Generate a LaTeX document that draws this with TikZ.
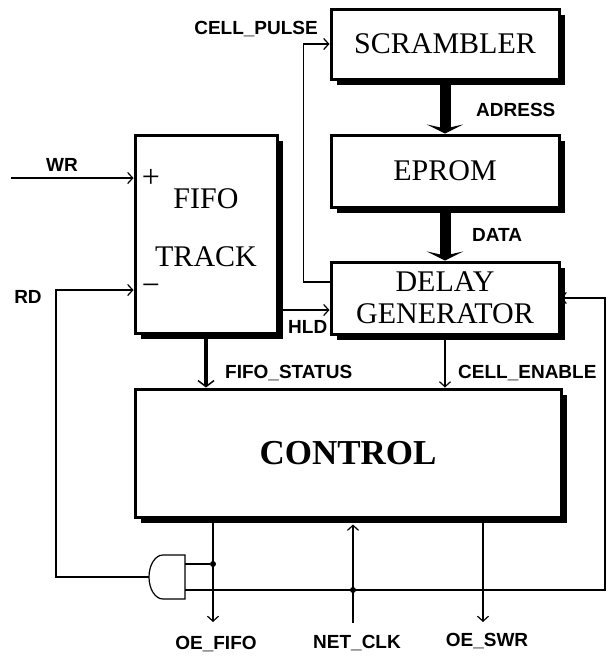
\documentclass[tikz,border=0pt]{standalone}
\usepackage{fontspec}
\setmainfont{Liberation Serif}
\setsansfont{Liberation Sans}
\usetikzlibrary{arrows.meta,shadows,positioning}

\begin{document}
\begin{tikzpicture}[x=1pt,y=-1pt,
  blk/.style={draw,line width=3pt,fill=white,minimum width=228pt,minimum height=72pt,inner sep=0pt,align=center,
    font=\fontsize{30}{32}\selectfont,drop shadow={shadow xshift=6pt,shadow yshift=-6pt,fill=black,opacity=1}},
  lbl/.style={font=\sffamily\bfseries\fontsize{19}{19}\selectfont,inner sep=0pt,text height=13.6pt,text depth=0pt},
  pm/.style={font=\fontsize{32}{32}\selectfont,inner sep=0pt},
  sig/.style={line width=1.2pt},
  arr/.style={sig,-{Straight Barb[length=5pt,width=11pt]}},
  bus/.style={line width=11pt,-{Stealth[length=9pt,width=36pt,inset=4pt]}},
  stat/.style={line width=4pt,-{Straight Barb[length=6pt,width=16pt,line width=1.5pt]}},
  dot/.style={circle,fill,inner sep=0pt,minimum size=6pt}
]
\useasboundingbox (0,0) rectangle (608,656);

% blocks
\node[blk,minimum height=70pt] (scr) at (445,44) {SCRAMBLER};
\node[blk] (eprom) at (445,171) {EPROM};
\node[blk] (delay) at (445,298) {DELAY\\GENERATOR};
\node[blk,minimum width=142pt,minimum height=198pt] (fifo) at (206,234) {FIFO\\[26pt]TRACK\\[-20pt]\mbox{}};
\node[blk,minimum width=426pt,minimum height=128pt,font=\bfseries\fontsize{35}{35}\selectfont] (control) at (348,453) {CONTROL};

% free ends
\coordinate (wr) at (11,178);
\coordinate (rd) at (56,290);
\coordinate (oef) at (213,622);
\coordinate (nclk) at (353,623);
\coordinate (oes) at (483,622);
\coordinate (fb) at (605,590);

% gate
\coordinate (gout) at (149,577);
\coordinate (gin1) at (185,564);
\coordinate (gin2) at (185,590);
\draw[sig] (185,555) -- (163,555) arc[start angle=270,end angle=90,x radius=14,y radius=22] -- (185,599) -- cycle;

% buses
\draw[bus] (scr.south) -- (eprom.north);
\draw[bus] (eprom.south) -- (delay.north);
\draw[stat] (fifo.south) -- (fifo.south |- control.north);
\draw[arr] (delay.south) -- (delay.south |- control.north);

% signals
\draw[arr] ([yshift=16pt]delay.west) -- ++(-26,0) |- (scr.west);
\coordinate (hld) at ([yshift=-12pt]delay.west);
\draw[arr] (hld -| fifo.east) -- (hld);
\draw[arr] (wr) -- (wr -| fifo.west);
\draw[arr] (gout) -| (rd) -- (rd -| fifo.west);
\draw[arr] (oef |- control.south) -- (oef);
\draw[arr,shorten >=6pt] (nclk) -- (nclk |- control.south);
\draw[arr] (oes |- control.south) -- (oes);
\node[dot] (j1) at (gin1 -| oef) {};
\node[dot] (j2) at (gin2 -| nclk) {};
\draw[sig] (gin1) -- (j1);
\draw[arr,shorten >=-6pt] (gin2) -- (fb) |- ([xshift=6pt]delay.east);

% labels
\node[lbl,anchor=east] (lcp) at (318,28) {CELL\_PULSE};
\node[lbl,anchor=west] (ladr) at (476,110) {ADRESS};
\node[lbl,anchor=west] (ldat) at (472,235) {DATA};
\node[lbl] (lwr) at (62,165) {WR};
\node[lbl] (lrd) at (28,297) {RD};
\node[lbl,anchor=west] (lhld) at (288,327) {HLD};
\node[lbl,anchor=west] (lfs) at (225,372) {FIFO\_STATUS};
\node[lbl,anchor=west] (lce) at (458,372) {CELL\_ENABLE};
\node[lbl] (loef) at (216,643) {OE\_FIFO};
\node[lbl] (lclk) at (357,642) {NET\_CLK};
\node[lbl] (loes) at (487,640) {OE\_SWR};
\node[pm] (plus) at (151,178) {+};
\node[pm] (minus) at (151,290) {\textminus};
\end{tikzpicture}
\end{document}
